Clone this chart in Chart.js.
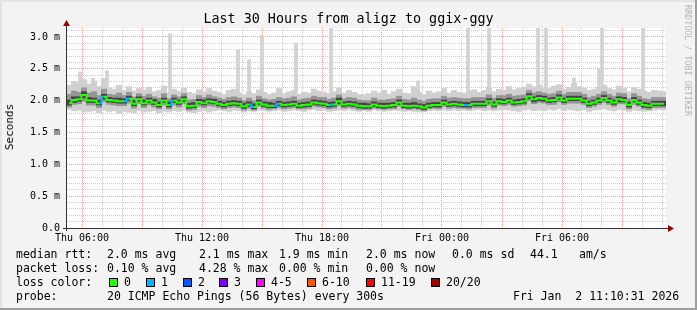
<!DOCTYPE html>
<html>
<head>
<meta charset="utf-8">
<script src="https://cdn.jsdelivr.net/npm/chart.js@4.4.1/dist/chart.umd.min.js"></script>
<style>
body{margin:0;background:#f3f3f3;}
#wrap{position:relative;width:697px;height:310px;overflow:hidden;box-shadow:inset -2px -2px 0 #9e9e9e,inset 2px 2px 0 #e4e4e4;font-family:"DejaVu Sans Mono",monospace;color:#000;}
canvas{position:absolute;left:0;top:0;}
.t{position:absolute;white-space:pre;line-height:14px;font-size:11.5px;}
.box{position:absolute;width:9px;height:9px;border:1px solid #000;box-sizing:border-box;}
</style>
</head>
<body>
<div id="wrap">
<canvas id="c" width="697" height="310"></canvas>
<div class="t" style="left:0;width:697px;text-align:center;top:11px;font-size:13.4px;line-height:16px">Last 30 Hours from aligz to ggix-ggy</div>
<div class="t" style="left:10px;top:127px;font-size:11px;transform:translate(-50%,-50%) rotate(-90deg)">Seconds</div>
<div class="t" style="left:683px;top:5px;font-size:8.4px;line-height:10px;writing-mode:vertical-rl;color:#b4b4b4">RRDTOOL / TOBI OETIKER</div>
<div id="legend"></div>
</div>
<script>
// time slots: hours since Thu 00:00, one every 15 min
const tStart=5.35, tStep=0.25
const xMin=5.25, xMax=35.2
const xLabels={6:"Thu 06:00",12:"Thu 12:00",18:"Thu 18:00",24:"Fri 00:00",30:"Fri 06:00"}
const yTicks=[0,0.5,1,1.5,2,2.5,3]
const yTickText=["0.0","0.5 m","1.0 m","1.5 m","2.0 m","2.5 m","3.0 m"]

// median rtt (ms)
const med=[1.96,2.01,2.02,2.09,2.00,2.00,1.96,2.06,2.01,2.00,1.99,1.99,2.03,1.95,2.02,1.96,2.00,1.97,1.93,2.00,1.93,2.00,1.97,2.02,1.91,1.92,1.98,1.96,1.99,1.98,
1.95,1.93,1.95,1.96,1.95,1.91,1.94,1.90,1.97,1.94,1.92,1.92,1.95,1.93,1.94,1.95,1.92,1.93,1.94,1.97,1.96,1.95,1.93,1.94,1.99,1.94,1.95,1.94,1.92,1.91,
1.91,1.94,1.92,1.91,1.92,1.93,1.97,1.92,1.91,1.92,1.91,1.89,1.92,1.93,1.93,1.97,1.94,1.95,1.94,1.93,1.93,1.95,1.95,1.95,1.99,1.94,1.99,1.98,2.00,
1.97,1.98,1.99,2.07,2.02,2.04,2.03,2.00,2.01,2.05,2.00,2.03,2.03,2.03,2.00,1.95,1.97,2.00,2.04,2.00,1.97,2.02,2.01,1.93,2.01,1.97,1.93,1.92,1.95,1.95,1.95]
// lost pings per slot (0 = none)
const loss=[0,0,0,0,0,0,1,0,0,0,0,1,0,0,0,0,0,0,0,0,1,0,0,0,0,0,0,0,0,0,
0,0,0,0,0,0,1,0,0,0,0,1,0,0,0,0,0,0,0,0,0,0,1,0,0,0,0,0,0,0,
0,0,0,0,0,0,0,0,0,0,0,0,0,0,0,0,0,0,0,1,0,0,0,0,0,0,0,0,0,
0,0,0,0,0,0,0,0,0,0,0,0,0,0,0,0,0,0,0,0,0,0,0,0,0,0,0,0,0,0,0]
// smoke: outer range
const hi=[2.24,2.30,2.28,2.33,2.26,2.31,2.22,2.35,2.20,2.18,2.24,2.16,2.22,2.15,2.19,2.17,2.21,2.14,2.16,2.23,2.12,2.18,2.15,2.20,2.13,2.11,2.17,2.14,2.19,2.15,
2.13,2.10,2.16,2.18,2.12,2.09,2.14,2.11,2.17,2.13,2.10,2.12,2.19,2.11,2.14,2.16,2.10,2.13,2.12,2.18,2.15,2.13,2.11,2.14,2.20,2.12,2.16,2.13,2.10,2.09,
2.11,2.15,2.12,2.16,2.10,2.14,2.18,2.12,2.11,2.22,2.13,2.09,2.15,2.12,2.14,2.19,2.12,2.16,2.13,2.12,2.15,2.17,2.13,2.16,2.21,2.14,2.18,2.16,2.22,
2.17,2.19,2.21,2.26,2.22,2.24,2.20,2.19,2.23,2.25,2.18,2.21,2.27,2.22,2.20,2.16,2.18,2.21,2.24,2.19,2.17,2.23,2.20,2.14,2.21,2.18,2.15,2.13,2.16,2.15,2.14]
const lo=[1.86,1.84,1.85,1.82,1.83,1.84,1.81,1.85,1.83,1.84,1.80,1.83,1.82,1.81,1.84,1.82,1.83,1.84,1.81,1.83,1.82,1.84,1.83,1.85,1.82,1.81,1.83,1.84,1.82,1.84,
1.85,1.84,1.83,1.85,1.84,1.82,1.84,1.83,1.85,1.84,1.83,1.84,1.85,1.83,1.84,1.85,1.84,1.83,1.85,1.86,1.84,1.85,1.83,1.84,1.85,1.84,1.86,1.84,1.83,1.84,
1.83,1.85,1.84,1.83,1.84,1.85,1.84,1.83,1.84,1.83,1.82,1.83,1.84,1.85,1.84,1.85,1.84,1.85,1.84,1.85,1.84,1.85,1.86,1.84,1.85,1.84,1.85,1.86,1.85,
1.84,1.83,1.85,1.86,1.84,1.85,1.84,1.86,1.85,1.87,1.84,1.86,1.85,1.84,1.86,1.83,1.85,1.86,1.87,1.85,1.84,1.86,1.85,1.83,1.85,1.84,1.83,1.84,1.85,1.86,1.85]
// smoke: middle band
const mhi=[2.10,2.15,2.13,2.20,2.12,2.14,2.08,2.18,2.10,2.09,2.12,2.08,2.13,2.06,2.11,2.07,2.10,2.06,2.04,2.11,2.03,2.09,2.06,2.11,2.01,2.02,2.08,2.05,2.09,2.06,
2.04,2.02,2.05,2.06,2.04,2.00,2.04,2.00,2.07,2.03,2.01,2.02,2.05,2.03,2.04,2.06,2.01,2.03,2.04,2.07,2.05,2.05,2.02,2.04,2.09,2.03,2.05,2.04,2.01,2.00,
2.00,2.04,2.01,2.01,2.02,2.03,2.07,2.02,2.01,2.04,2.01,1.99,2.02,2.03,2.03,2.07,2.04,2.05,2.04,2.03,2.03,2.05,2.05,2.05,2.09,2.04,2.08,2.08,2.10,
2.07,2.08,2.09,2.16,2.12,2.14,2.12,2.10,2.11,2.15,2.10,2.13,2.13,2.13,2.10,2.05,2.07,2.10,2.14,2.10,2.07,2.12,2.11,2.03,2.11,2.07,2.03,2.02,2.05,2.05,2.05]
const mlo=[1.90,1.94,1.95,1.99,1.93,1.93,1.89,1.98,1.94,1.93,1.92,1.92,1.96,1.88,1.95,1.89,1.93,1.90,1.87,1.93,1.87,1.93,1.90,1.95,1.85,1.86,1.91,1.89,1.92,1.91,
1.89,1.87,1.89,1.90,1.89,1.85,1.88,1.85,1.91,1.88,1.86,1.87,1.89,1.87,1.88,1.89,1.87,1.87,1.88,1.91,1.90,1.89,1.87,1.88,1.92,1.88,1.89,1.88,1.86,1.86,
1.86,1.88,1.87,1.86,1.87,1.87,1.91,1.87,1.86,1.87,1.86,1.84,1.87,1.88,1.87,1.91,1.88,1.89,1.88,1.88,1.87,1.89,1.89,1.89,1.93,1.88,1.93,1.92,1.94,
1.91,1.92,1.93,2.00,1.95,1.97,1.96,1.94,1.94,1.98,1.94,1.96,1.96,1.96,1.94,1.89,1.91,1.94,1.97,1.94,1.91,1.95,1.95,1.87,1.94,1.91,1.87,1.86,1.89,1.89,1.89]
// smoke: dense core
const dhi=[2.01,2.06,2.06,2.14,2.05,2.04,2.01,2.10,2.05,2.04,2.04,2.03,2.07,2.00,2.06,2.01,2.04,2.02,1.98,2.04,1.98,2.04,2.01,2.06,1.96,1.97,2.02,2.01,2.03,2.02,
1.99,1.97,1.99,2.00,1.99,1.96,1.98,1.95,2.01,1.98,1.97,1.96,1.99,1.97,1.98,1.99,1.96,1.97,1.98,2.01,2.00,1.99,1.97,1.98,2.04,1.98,1.99,1.98,1.96,1.96,
1.95,1.98,1.96,1.96,1.96,1.97,2.01,1.96,1.96,1.97,1.95,1.94,1.96,1.97,1.97,2.01,1.98,1.99,1.98,1.97,1.97,1.99,1.99,1.99,2.03,1.98,2.03,2.02,2.04,
2.01,2.02,2.03,2.11,2.06,2.08,2.07,2.04,2.05,2.09,2.04,2.07,2.07,2.07,2.04,1.99,2.01,2.04,2.08,2.04,2.01,2.06,2.05,1.98,2.05,2.01,1.97,1.96,1.99,1.99,1.99]
const dlo=[1.93,1.97,1.99,2.04,1.97,1.97,1.93,2.02,1.98,1.97,1.96,1.96,2.00,1.92,1.99,1.93,1.97,1.94,1.90,1.97,1.90,1.97,1.94,1.99,1.88,1.89,1.95,1.93,1.96,1.95,
1.92,1.90,1.92,1.93,1.92,1.88,1.91,1.87,1.94,1.91,1.89,1.89,1.92,1.90,1.91,1.92,1.89,1.90,1.91,1.94,1.93,1.92,1.90,1.91,1.95,1.91,1.92,1.91,1.89,1.88,
1.88,1.91,1.89,1.88,1.89,1.90,1.94,1.89,1.88,1.89,1.88,1.86,1.89,1.90,1.90,1.94,1.91,1.92,1.91,1.90,1.90,1.92,1.92,1.92,1.96,1.91,1.96,1.95,1.97,
1.94,1.95,1.96,2.03,1.98,2.00,1.99,1.97,1.98,2.02,1.97,2.00,2.00,2.00,1.97,1.92,1.94,1.97,2.01,1.97,1.94,1.98,1.98,1.90,1.98,1.94,1.90,1.89,1.92,1.92,1.92]
// single slow pings sticking out of the smoke
const spikeT=[5.9,6.55,7.25,10.4,13.8,14.35,15.0,16.7,18.45,22.8,25.3,26.35,28.8,29.2,30.6,31.85,32.0,34.05]
const spikeTop=[2.45,2.35,2.47,3.05,2.80,2.64,3.02,2.90,3.14,2.31,3.14,3.14,3.14,3.14,2.36,2.50,3.14,3.14]
const spikeBase=2.0

const lossColors=["#26ff00","#00b8ff","#0059ff","#7e00ff","#ff00ff","#ff5500","#ff0000","#a10000"]
const lossNames=["0","1","2","3","4-5","6-10","11-19","20/20"]

const times=med.map((v,i)=>+(tStart+i*tStep).toFixed(2))

const smoke=(a,b,color,order)=>({
  type:"bar",
  data:times.map((t,i)=>({x:t,y:[a[i],b[i]]})),
  backgroundColor:color,
  barThickness:5.4,
  grouped:false,
  order:order
})

const axes={
  id:"axes",
  beforeDraw(ch){
    const {ctx,chartArea:a}=ch
    ctx.save()
    ctx.fillStyle="#fff"
    ctx.fillRect(a.left,a.top,a.right-a.left,a.bottom-a.top)
    ctx.restore()
  },
  afterDraw(ch){
    const {ctx,chartArea:a}=ch
    ctx.save()
    ctx.strokeStyle="#333"
    ctx.lineWidth=1
    ctx.beginPath()
    ctx.moveTo(a.left-0.5,a.bottom+3)
    ctx.lineTo(a.left-0.5,a.top-4)
    ctx.moveTo(a.left-4,a.bottom+0.5)
    ctx.lineTo(a.right+4,a.bottom+0.5)
    ctx.stroke()
    ctx.fillStyle="#990000"
    ctx.beginPath()
    ctx.moveTo(a.left-0.5,a.top-8)
    ctx.lineTo(a.left-4,a.top-2)
    ctx.lineTo(a.left+3,a.top-2)
    ctx.fill()
    ctx.beginPath()
    ctx.moveTo(a.right+8,a.bottom+0.5)
    ctx.lineTo(a.right+2,a.bottom-3)
    ctx.lineTo(a.right+2,a.bottom+4)
    ctx.fill()
    ctx.restore()
  }
}

const isMajor=(v,m)=>Math.abs(v/m-Math.round(v/m))<1e-6

new Chart(document.getElementById("c"),{
  type:"bar",
  data:{
    datasets:[
      {
        type:"bar",
        data:spikeT.map((t,i)=>({x:t,y:[spikeBase,spikeTop[i]]})),
        backgroundColor:"#d2d2d2",
        barThickness:3,
        grouped:false,
        order:5
      },
      smoke(lo,hi,"#d0d0d0",4),
      smoke(mlo,mhi,"#969696",3),
      smoke(dlo,dhi,"#444444",2),
      {
        type:"line",
        data:times.map((t,i)=>({x:t,y:med[i]})),
        borderColor:lossColors[0],
        borderWidth:2,
        pointRadius:0,
        stepped:"middle",
        segment:{borderColor:c=>lossColors[loss[c.p0DataIndex]]},
        order:1
      }
    ]
  },
  options:{
    responsive:false,
    animation:false,
    events:[],
    layout:{padding:{left:0,top:28,right:31,bottom:0}},
    plugins:{legend:{display:false},tooltip:{enabled:false}},
    scales:{
      x:{
        type:"linear",
        min:xMin,
        max:xMax,
        offset:false,
        afterFit:s=>{s.height=82},
        grid:{
          offset:false,
          drawTicks:false,
          color:c=>isMajor(c.tick.value,3)?"#f2a0a0":"#cfcfcf"
        },
        border:{display:false,dash:[1,1]},
        ticks:{
          stepSize:1,
          includeBounds:false,
          autoSkip:false,
          maxRotation:0,
          padding:4,
          color:"#000",
          font:{family:"DejaVu Sans Mono",size:10},
          callback:v=>xLabels[v]||""
        }
      },
      y:{
        min:0,
        max:3.14,
        afterFit:s=>{s.width=67},
        grid:{
          drawTicks:false,
          color:c=>isMajor(c.tick.value,0.5)?"#f2a0a0":"#cfcfcf"
        },
        border:{display:false,dash:[1,1]},
        ticks:{
          stepSize:0.1,
          includeBounds:false,
          autoSkip:false,
          padding:7,
          color:"#000",
          font:{family:"DejaVu Sans Mono",size:10},
          callback:v=>{
            const k=yTicks.findIndex(t=>Math.abs(t-v)<1e-6)
            return k<0?"":yTickText[k]
          }
        }
      }
    }
  },
  plugins:[axes]
})

// legend rows under the graph
const rows=[
  [254,[[16,"median rtt:"],[107,"2.0 ms avg"],[199,"2.1 ms max"],[279,"1.9 ms min"],[366,"2.0 ms now"],[452,"0.0 ms sd"],[530,"44.1"],[579,"am/s"]]],
  [268,[[16,"packet loss:"],[107,"0.10 % avg"],[199,"4.28 % max"],[279,"0.00 % min"],[366,"0.00 % now"]]],
  [282,[[16,"loss color:"]]],
  [296,[[16,"probe:"],[107,"20 ICMP Echo Pings (56 Bytes) every 300s"],[513,"Fri Jan  2 11:10:31 2026"]]]
]
const boxX=[109,146,183,219,256,307,366,431]
const legend=document.getElementById("legend")
let html=""
rows.forEach(([y,items])=>{
  items.forEach(([x,txt])=>{
    html+=`<div class="t" style="left:${x}px;top:${y-7}px">${txt}</div>`
  })
})
lossNames.forEach((n,i)=>{
  html+=`<div class="box" style="left:${boxX[i]}px;top:278px;background:${lossColors[i]}"></div>`
  html+=`<div class="t" style="left:${boxX[i]+15}px;top:275px">${n}</div>`
})
legend.innerHTML=html
</script>
</body>
</html>
